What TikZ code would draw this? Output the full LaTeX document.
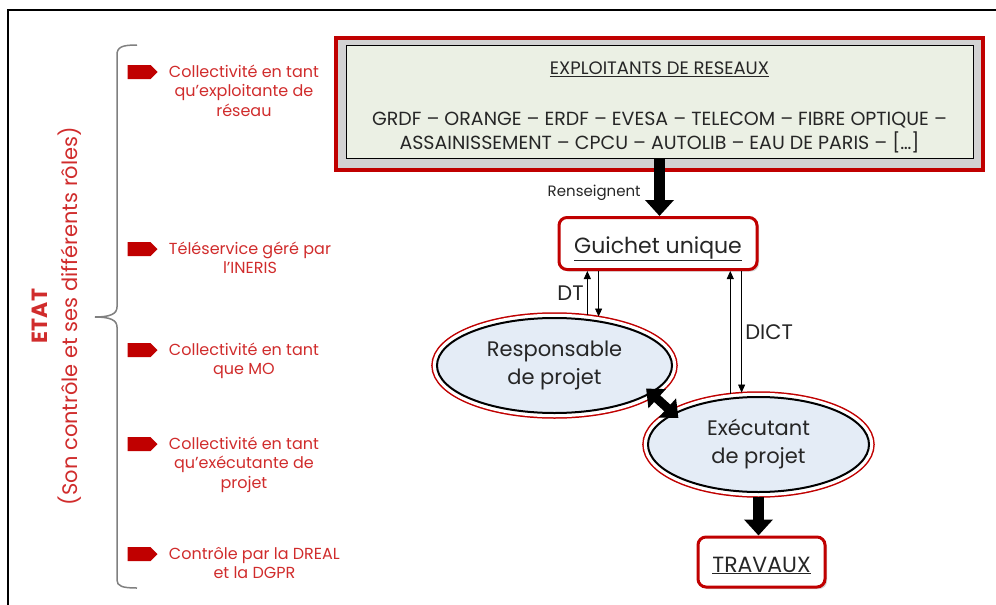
\documentclass[tikz,border=0pt]{standalone}
\usepackage{fontspec}
\setmainfont{Poppins}
\usetikzlibrary{arrows.meta,shapes.geometric,shapes.symbols,shadows,positioning}
\definecolor{boxred}{HTML}{C00000}
\definecolor{rolered}{HTML}{D02C2C}
\definecolor{greenfill}{HTML}{EBF0E4}
\definecolor{bluefill}{HTML}{E4ECF6}
\definecolor{inkgrey}{HTML}{262626}
\definecolor{bracegrey}{HTML}{808080}

\begin{document}
\begin{tikzpicture}[
              x=1pt, y=-1pt,
              every node/.style={text=inkgrey},
              boxshadow/.style={
                  drop shadow={shadow xshift=2pt,shadow yshift=-2pt,fill=black!35},
                },
              redframe/.style={
                  draw=boxred,
                  line width=4pt,
                  boxshadow,
                },
              listbox/.style={
                  draw=black,
                  line width=1pt,
                  fill=greenfill,
                },
              desk/.style={
                  rectangle,
                  rounded corners=8pt,
                  draw=boxred,
                  line width=3pt,
                  fill=white,
                  boxshadow,
                  minimum height=52pt,
                  text height=20pt,
                  text depth=1pt,
                  font=\fontsize{22}{26}\selectfont,
                },
              actor/.style={
                  ellipse,
                  preaction={draw=boxred,line width=11.5pt},
                  preaction={draw=white,line width=8.5pt},
                  draw=black,
                  line width=2pt,
                  fill=bluefill,
                  inner sep=0pt,
                  outer sep=5pt,
                  minimum height=95pt,
                  align=center,
                  font=\fontsize{21}{28}\selectfont,
                },
              pointer/.style={
                  signal,
                  signal to=east,
                  fill=boxred,
                  minimum width=30pt,
                  minimum height=14pt,
                  inner sep=0pt,
                },
              role/.style={
                  text=rolered,
                  align=center,
                  inner sep=0pt,
                  font=\fontsize{16}{19.5}\selectfont,
                },
              flow label/.style={font=\fontsize{21}{24}\selectfont},
              fat arrow/.style={line width=11pt,-{Triangle[width=28pt,length=16pt]}},
              thin arrow/.style={line width=0.8pt,-{Triangle[width=7pt,length=8pt]}},
            ]
            \useasboundingbox (0,0) rectangle (996,605);
            \draw[line width=1.5pt] (8,605) -- (8,10) -- (996,10);

            % left part: the roles of the state
            \node[rotate=90,align=center,text=rolered,font=\fontsize{21}{30}\selectfont] (etat) at (57,316)
            {{\fontsize{22}{30}\selectfont\bfseries ETAT}\\(Son contrôle et ses différents rôles)};
            \draw[bracegrey,line width=1.5pt] (137,45) .. controls (122,45) and (117,47) .. (117,55)
            -- (117,307) .. controls (117,314) and (110,317) .. (95,317)
            .. controls (110,317) and (117,320) .. (117,327)
            -- (117,580) .. controls (117,586) and (122,588) .. (137,588);
            \foreach \Pos/\Text [count=\i] in {72/{Collectivité en tant\\qu’exploitante de\\réseau},
              249/{Téléservice géré par\\l’INERIS},
              350/{Collectivité en tant\\que MO},
              444/{Collectivité en tant\\qu’exécutante de\\projet},
              554/{Contrôle par la DREAL\\et la DGPR}}
            {
            \node[pointer] (p\i) at (139,\Pos) {};
            \node[role,anchor=north west] (r\i) at ([xshift=11pt,yshift=8.5pt]p\i.east) {\strut\Text};
            }

            % right part: the flow
            \node[redframe,minimum width=647pt,minimum height=132pt] (expl) at (659.5,104) {};
            \node[listbox,minimum width=627pt,minimum height=113pt] (reseaux) at (659.5,101.5) {};
            \node[font=\fontsize{18}{24}\selectfont] (titre) at (659.5,69) {\underline{EXPLOITANTS DE RESEAUX}};
            \node[align=center,font=\fontsize{19}{24}\selectfont] (liste) at (659.5,133)
            {GRDF – ORANGE – ERDF – EVESA – TELECOM – FIBRE OPTIQUE –\\
              ASSAINISSEMENT – CPCU – AUTOLIB – EAU DE PARIS – […]};
            \node[desk,minimum width=198pt] (guichet) at (658,243.5) {\underline{Guichet unique}};
            \node[actor,minimum width=235pt] (resp) at (554.5,365.5) {Responsable\\de projet};
            \node[actor,minimum width=221pt] (exec) at (758.5,444.5) {Exécutant\\de projet};
            \node[desk,minimum width=127pt,minimum height=50pt,text depth=0pt] (travaux) at (761.5,562) {\underline{TRAVAUX}};

            \draw[fat arrow] (reseaux.south) -- (reseaux.south |- guichet.north)
            node[pos=0.6,left=10pt,font=\fontsize{15}{18}\selectfont] {Renseignent};
            \draw[fat arrow] (exec.south) -- (exec.south |- travaux.north);
            \draw[line width=9pt,{Triangle[width=25pt,length=15pt]}-{Triangle[width=25pt,length=15pt]},
              shorten <=-11pt,shorten >=-11pt] (resp.-17) -- (exec.159);
            \path[thin arrow]
            (resp.57) edge node[left,flow label] {DT} (resp.57 |- guichet.south)
            (resp.48 |- guichet.south) edge (resp.48)
            (exec.119) edge (exec.119 |- guichet.south)
            (exec.108 |- guichet.south) edge node[right,flow label] {DICT} (exec.108)
            ;
          \end{tikzpicture}
\end{document}
